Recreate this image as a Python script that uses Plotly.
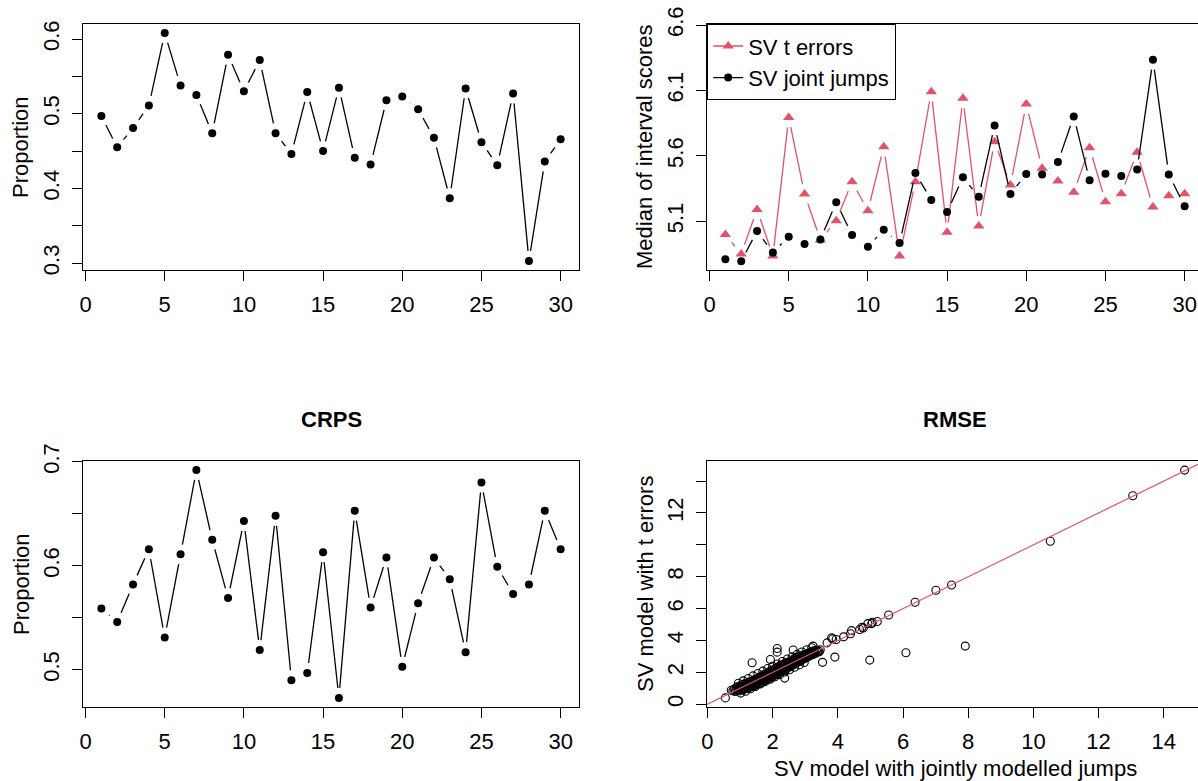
import numpy as np
import plotly.graph_objects as go

# ---------------- data ----------------
horizon = list(range(1, 31))

prop_top = [0.497, 0.455, 0.481, 0.511, 0.608, 0.538, 0.525, 0.474, 0.579, 0.530,
            0.572, 0.474, 0.446, 0.529, 0.450, 0.535, 0.441, 0.432, 0.518, 0.523,
            0.506, 0.468, 0.387, 0.534, 0.462, 0.431, 0.527, 0.303, 0.436, 0.466]

sv_t_errors = [5.00, 4.85, 5.19, 4.835, 5.894, 5.309, 4.957, 5.105, 5.403, 5.181,
               5.670, 4.835, 5.403, 6.091, 5.016, 6.040, 5.064, 5.709, 5.378, 5.996,
               5.505, 5.408, 5.322, 5.663, 5.250, 5.311, 5.627, 5.209, 5.296, 5.311]

sv_joint_jumps = [4.810, 4.794, 5.026, 4.861, 4.983, 4.927, 4.962, 5.245, 4.996, 4.906,
                  5.036, 4.934, 5.469, 5.263, 5.171, 5.436, 5.288, 5.833, 5.309, 5.462,
                  5.457, 5.553, 5.902, 5.413, 5.464, 5.446, 5.497, 6.335, 5.457, 5.215]

crps_prop = [0.559, 0.546, 0.582, 0.616, 0.531, 0.611, 0.692, 0.625, 0.569, 0.643,
             0.519, 0.648, 0.490, 0.497, 0.613, 0.473, 0.653, 0.560, 0.608, 0.503,
             0.564, 0.608, 0.587, 0.517, 0.680, 0.599, 0.573, 0.582, 0.653, 0.616]

rmse_jumps = [
    0.78, 0.82, 0.85, 0.88, 0.90, 0.92, 0.95, 0.97, 0.98, 1.00,
    1.02, 1.03, 1.05, 1.06, 1.08, 1.10, 1.11, 1.13, 1.15, 1.16,
    1.18, 1.20, 1.21, 1.23, 1.25, 1.26, 1.28, 1.30, 1.31, 1.33,
    1.35, 1.36, 1.38, 1.40, 1.41, 1.43, 1.45, 1.46, 1.48, 1.50,
    1.52, 1.53, 1.55, 1.57, 1.58, 1.60, 1.62, 1.63, 1.65, 1.67,
    1.68, 1.70, 1.72, 1.73, 1.75, 1.77, 1.78, 1.80, 1.82, 1.83,
    1.85, 1.87, 1.88, 1.90, 1.92, 1.93, 1.95, 1.97, 1.98, 2.00,
    2.02, 2.03, 2.05, 2.07, 2.08, 2.10, 2.12, 2.13, 2.15, 2.17,
    2.18, 2.20, 2.22, 2.23, 2.25, 2.27, 2.28, 2.30, 2.32, 2.33,
    2.35, 2.37, 2.38, 2.40, 2.42, 2.43, 2.45, 2.47, 2.48, 2.50,
    2.52, 2.53, 2.55, 2.57, 2.58, 2.60, 2.62, 2.63, 2.65, 2.67,
    2.68, 2.70, 2.72, 2.73, 2.75, 2.77, 2.78, 2.80, 2.82, 2.83,
    2.85, 2.87, 2.88, 2.90, 2.92, 2.94, 2.96, 2.98, 3.00, 3.02,
    3.04, 3.06, 3.08, 3.10, 3.12, 3.14, 3.16, 3.18, 3.20, 3.22,
    3.24, 3.26, 3.28, 3.30, 3.32, 3.35, 3.38, 3.40, 3.43, 3.46,
    1.05, 1.12, 1.19, 1.27, 1.34, 1.42, 1.49, 1.56, 1.64, 1.71,
    1.79, 1.86, 1.94, 2.01, 2.09, 2.16, 2.24, 2.31, 2.39, 2.46,
    2.54, 2.61, 2.69, 2.76, 2.84, 2.91, 2.99, 3.06, 3.13, 3.21,
    0.95, 1.10, 1.25, 1.40, 1.55, 1.70, 1.85, 2.00, 2.15, 2.30,
    2.45, 2.60, 2.75, 2.90, 3.05, 3.20, 1.02, 1.17, 1.32, 1.47,
    1.62, 1.77, 1.92, 2.07, 2.22, 2.37, 2.52, 2.67, 2.82, 2.97,
    1.37, 1.93, 2.14, 2.14, 2.63, 3.24, 2.37, 0.55, 0.73, 3.29,
    3.53, 3.91, 4.98, 6.09, 7.91, 3.67, 3.84, 3.81, 3.95, 4.18,
    4.39, 4.42, 4.67, 4.74, 4.78, 4.92, 5.04, 5.06, 5.21, 5.56,
    6.37, 7.01, 7.49, 10.52, 13.05, 14.64]

rmse_t = [
    0.85, 0.95, 0.80, 1.02, 0.88, 1.10, 0.92, 1.05, 0.84, 1.15,
    0.95, 1.08, 0.90, 1.22, 1.00, 1.12, 0.93, 1.28, 1.05, 1.18,
    0.98, 1.30, 1.10, 1.20, 1.02, 1.38, 1.15, 1.25, 1.08, 1.42,
    1.20, 1.32, 1.12, 1.50, 1.25, 1.38, 1.18, 1.55, 1.30, 1.45,
    1.25, 1.62, 1.38, 1.50, 1.30, 1.70, 1.45, 1.58, 1.35, 1.78,
    1.52, 1.65, 1.45, 1.85, 1.58, 1.72, 1.50, 1.92, 1.65, 1.80,
    1.58, 2.00, 1.72, 1.85, 1.65, 2.08, 1.80, 1.92, 1.72, 2.15,
    1.88, 2.00, 1.80, 2.22, 1.95, 2.08, 1.88, 2.30, 2.02, 2.15,
    1.95, 2.38, 2.10, 2.22, 2.02, 2.45, 2.18, 2.30, 2.10, 2.50,
    2.25, 2.38, 2.18, 2.58, 2.32, 2.45, 2.25, 2.62, 2.40, 2.52,
    2.35, 2.70, 2.48, 2.60, 2.42, 2.78, 2.55, 2.68, 2.50, 2.85,
    2.62, 2.75, 2.58, 2.90, 2.70, 2.82, 2.65, 2.98, 2.78, 2.88,
    2.72, 3.02, 2.85, 2.95, 2.80, 3.08, 2.92, 3.02, 2.88, 3.15,
    3.00, 3.10, 2.98, 3.22, 3.08, 3.18, 3.05, 3.28, 3.15, 3.25,
    3.12, 3.35, 3.22, 3.30, 3.20, 3.40, 3.28, 3.35, 3.30, 3.42,
    1.05, 1.12, 1.20, 1.26, 1.33, 1.42, 1.48, 1.56, 1.63, 1.70,
    1.80, 1.86, 1.93, 2.02, 2.08, 2.16, 2.25, 2.30, 2.38, 2.47,
    2.53, 2.62, 2.68, 2.77, 2.83, 2.92, 2.98, 3.05, 3.14, 3.20,
    1.32, 1.47, 1.62, 1.78, 1.93, 2.08, 2.24, 2.38, 2.53, 2.68,
    2.84, 2.98, 3.13, 3.28, 3.42, 3.55, 0.70, 0.82, 0.97, 1.12,
    1.27, 1.42, 1.57, 1.72, 1.86, 2.02, 2.17, 2.32, 2.47, 2.62,
    2.60, 2.81, 3.50, 3.27, 3.40, 3.65, 1.64, 0.40, 0.88, 3.28,
    2.63, 2.96, 2.77, 3.23, 3.65, 3.85, 4.10, 4.17, 4.06, 4.23,
    4.42, 4.62, 4.69, 4.83, 4.79, 5.06, 5.06, 5.15, 5.19, 5.60,
    6.40, 7.15, 7.48, 10.23, 13.08, 14.69]

x_ticks_h = [0, 5, 10, 15, 20, 25, 30]
tl_yticks = [0.30, 0.35, 0.40, 0.45, 0.50, 0.55, 0.60]
tl_ylabels = ["0.3", "", "0.4", "", "0.5", "", "0.6"]
tr_yticks = [5.1, 5.6, 6.1, 6.6]
tr_ylabels = ["5.1", "5.6", "6.1", "6.6"]
bl_yticks = [0.50, 0.55, 0.60, 0.65, 0.70]
bl_ylabels = ["0.5", "", "0.6", "", "0.7"]
br_xticks = [0, 2, 4, 6, 8, 10, 12, 14]
br_yticks = [0, 2, 4, 6, 8, 10, 12, 14]
br_ylabels = ["0", "2", "4", "6", "8", "", "12", ""]

# ---------------- layout geometry ----------------
W, H = 1198, 781
FONT = "Liberation Sans, Arial, Helvetica, sans-serif"
FS = 22
RED = "#DF536B"
GAP = 10   # R type="b" gap in px
LW = 1.3

# plot boxes in pixels: (left, right, top, bottom)
BOX = {"tl": (83, 579, 24, 270), "tr": (707, 1203, 24, 270),
       "bl": (83, 579, 461, 707), "br": (707, 1203, 461, 707)}


def rrange(vals):
    lo, hi = min(vals), max(vals)
    p = 0.04 * (hi - lo)
    return [lo - p, hi + p]


def xdomain(key):
    l, r, t, b = BOX[key]
    return [l / W, min(r, W) / W]


def ydomain(key):
    l, r, t, b = BOX[key]
    return [1 - b / H, 1 - t / H]


def visible_xrange(key, rng):
    l, r, t, b = BOX[key]
    f = (min(r, W) - l) / (r - l)
    return [rng[0], rng[0] + (rng[1] - rng[0]) * f]


def gapped(xs, ys, key, xr, yr, g=GAP):
    l, r, t, b = BOX[key]
    sx = (r - l) / (xr[1] - xr[0])
    sy = (b - t) / (yr[1] - yr[0])
    gx, gy = [], []
    for i in range(len(xs) - 1):
        dx = xs[i + 1] - xs[i]
        dy = ys[i + 1] - ys[i]
        L = np.hypot(dx * sx, dy * sy)
        if L <= 2 * g:
            continue
        f = g / L
        gx += [xs[i] + f * dx, xs[i + 1] - f * dx, None]
        gy += [ys[i] + f * dy, ys[i + 1] - f * dy, None]
    return gx, gy


xr_h = rrange(horizon)
tl_yr = rrange(prop_top)
tr_yr = [4.728, 6.608]
bl_yr = rrange(crps_prop)
br_xr = rrange(rmse_jumps)
br_yr = rrange(rmse_t)

fig = go.Figure()

# top-left
gx, gy = gapped(horizon, prop_top, "tl", xr_h, tl_yr)
fig.add_trace(go.Scatter(x=gx, y=gy, mode="lines", line=dict(color="black", width=LW),
                         xaxis="x", yaxis="y", showlegend=False, hoverinfo="skip"))
fig.add_trace(go.Scatter(x=horizon, y=prop_top, mode="markers",
                         marker=dict(color="black", size=8, symbol="circle"),
                         xaxis="x", yaxis="y", showlegend=False))

# top-right
gx, gy = gapped(horizon, sv_t_errors, "tr", xr_h, tr_yr)
fig.add_trace(go.Scatter(x=gx, y=gy, mode="lines", line=dict(color=RED, width=LW),
                         xaxis="x2", yaxis="y2", showlegend=False, hoverinfo="skip"))
fig.add_trace(go.Scatter(x=horizon, y=sv_t_errors, mode="markers",
                         marker=dict(color=RED, size=10, symbol="triangle-up"),
                         xaxis="x2", yaxis="y2", showlegend=False))
gx, gy = gapped(horizon, sv_joint_jumps, "tr", xr_h, tr_yr)
fig.add_trace(go.Scatter(x=gx, y=gy, mode="lines", line=dict(color="black", width=LW),
                         xaxis="x2", yaxis="y2", showlegend=False, hoverinfo="skip"))
fig.add_trace(go.Scatter(x=horizon, y=sv_joint_jumps, mode="markers",
                         marker=dict(color="black", size=8, symbol="circle"),
                         xaxis="x2", yaxis="y2", showlegend=False))
# legend entries
fig.add_trace(go.Scatter(x=[None], y=[None], mode="lines+markers", name="SV t errors",
                         line=dict(color=RED, width=LW),
                         marker=dict(color=RED, size=10, symbol="triangle-up"),
                         xaxis="x2", yaxis="y2"))
fig.add_trace(go.Scatter(x=[None], y=[None], mode="lines+markers", name="SV joint jumps",
                         line=dict(color="black", width=LW),
                         marker=dict(color="black", size=8, symbol="circle"),
                         xaxis="x2", yaxis="y2"))

# bottom-left
gx, gy = gapped(horizon, crps_prop, "bl", xr_h, bl_yr)
fig.add_trace(go.Scatter(x=gx, y=gy, mode="lines", line=dict(color="black", width=LW),
                         xaxis="x3", yaxis="y3", showlegend=False, hoverinfo="skip"))
fig.add_trace(go.Scatter(x=horizon, y=crps_prop, mode="markers",
                         marker=dict(color="black", size=8, symbol="circle"),
                         xaxis="x3", yaxis="y3", showlegend=False))

# bottom-right
fig.add_trace(go.Scatter(x=rmse_jumps, y=rmse_t, mode="markers",
                         marker=dict(symbol="circle-open", size=8, color="black",
                                     line=dict(width=1.1, color="black")),
                         xaxis="x4", yaxis="y4", showlegend=False))
ab_a, ab_b = 0.0, 1.0
br_xvis = visible_xrange("br", br_xr)
fig.add_trace(go.Scatter(x=[br_xr[0], br_xvis[1]],
                         y=[ab_a + ab_b * br_xr[0], ab_a + ab_b * br_xvis[1]],
                         mode="lines", line=dict(color=RED, width=1.2),
                         xaxis="x4", yaxis="y4", showlegend=False))

axis_common = dict(showline=True, linecolor="black", linewidth=1.2, ticks="outside",
                   ticklen=10, tickwidth=1.2, tickcolor="black", showgrid=False,
                   zeroline=False, automargin=False,
                   tickfont=dict(family=FONT, size=FS, color="black"))
xax = dict(axis_common, ticklabelstandoff=4)
yax = dict(axis_common, ticklabelstandoff=4, tickangle=-90)

fig.update_layout(
    width=W, height=H, autosize=False,
    margin=dict(l=0, r=0, t=0, b=0, pad=0, autoexpand=False),
    paper_bgcolor="white", plot_bgcolor="white",
    font=dict(family=FONT, size=FS, color="black"),
    xaxis=dict(domain=xdomain("tl"), range=xr_h, tickvals=x_ticks_h, mirror=True,
               anchor="y", **xax),
    yaxis=dict(domain=ydomain("tl"), range=tl_yr, tickvals=tl_yticks, ticktext=tl_ylabels,
               mirror=True, anchor="x", **yax),
    xaxis2=dict(domain=xdomain("tr"), range=visible_xrange("tr", xr_h), tickvals=x_ticks_h,
                mirror=True, anchor="y2", **xax),
    yaxis2=dict(domain=ydomain("tr"), range=tr_yr, tickvals=tr_yticks, ticktext=tr_ylabels,
                mirror=False, anchor="x2", **yax),
    xaxis3=dict(domain=xdomain("bl"), range=xr_h, tickvals=x_ticks_h, mirror=True,
                anchor="y3", **xax),
    yaxis3=dict(domain=ydomain("bl"), range=bl_yr, tickvals=bl_yticks, ticktext=bl_ylabels,
                mirror=True, anchor="x3", **yax),
    xaxis4=dict(domain=xdomain("br"), range=br_xvis, tickvals=br_xticks, mirror=True,
                anchor="y4", **xax),
    yaxis4=dict(domain=ydomain("br"), range=br_yr, tickvals=br_yticks, ticktext=br_ylabels,
                mirror=False, anchor="x4", **yax),
    legend=dict(x=707 / W, y=1 - 24 / H, xanchor="left", yanchor="top",
                bgcolor="white", bordercolor="black", borderwidth=1.2,
                font=dict(family=FONT, size=FS, color="black"),
                itemwidth=30, tracegroupgap=0),
    showlegend=True,
)


def ann(text, x_px, y_px, angle=0, bold=False):
    fig.add_annotation(text=("<b>%s</b>" % text) if bold else text,
                       x=x_px / W, y=1 - y_px / H, xref="paper", yref="paper",
                       xanchor="center", yanchor="middle", showarrow=False,
                       textangle=angle, font=dict(family=FONT, size=FS, color="black"))


ann("Proportion", 21, 147, angle=-90)
ann("Median of interval scores", 645, 147, angle=-90)
ann("Proportion", 21, 584, angle=-90)
ann("SV model with t errors", 645, 584, angle=-90)
ann("SV model with jointly modelled jumps", 955, 768)
ann("CRPS", 331, 419, bold=True)
ann("RMSE", 955, 419, bold=True)

fig.write_html("out.html",
               config={"displayModeBar": False},
               post_script="document.body.style.margin='0';document.body.style.overflow='hidden';")
